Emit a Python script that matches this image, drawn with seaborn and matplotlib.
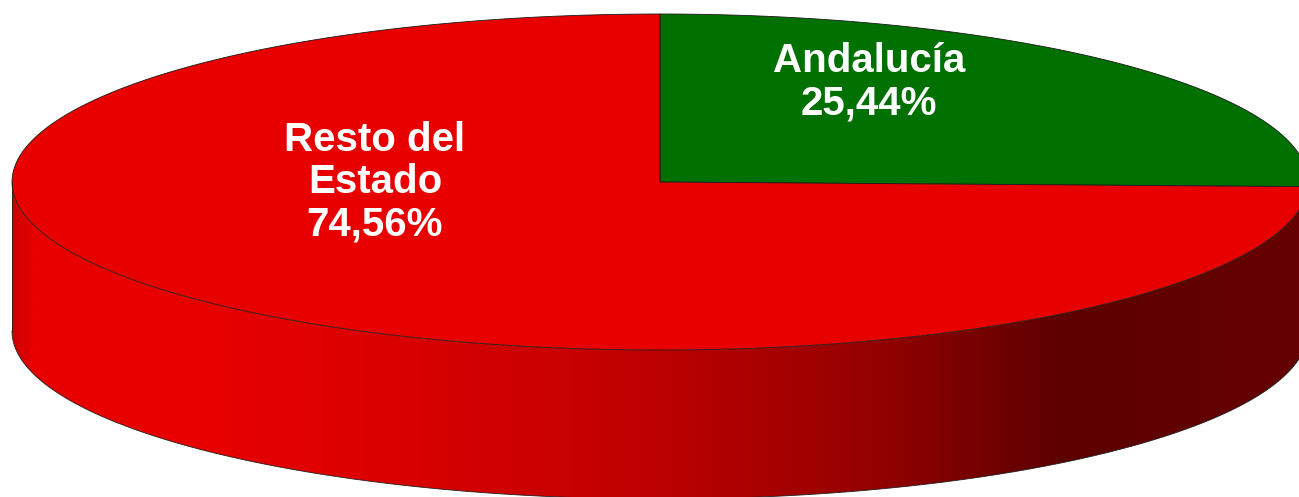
import numpy as np
import matplotlib
matplotlib.use("Agg")
import matplotlib.pyplot as plt
import seaborn as sns
from matplotlib.patches import Polygon

# ---- data ----
categories = ["Andalucía", "Resto del\nEstado"]
shares = [25.44, 74.56]
slice_colors = ["#007000", "#e80000"]

# ---- style / layout ----
sns.set_theme(style="white")
plt.rcParams['font.family'] = ['Liberation Sans', 'DejaVu Sans']

W, H = 1299, 497
CX, CY, A, B, DEPTH = 660, 182, 648, 168, 149
START = 90
label_pos = [(869, 82), (375, 182)]
shade_x = [12, 35, 200, 425, 650, 875, 1000, 1060, 1299]
shade_f = [0.88, 1.0, 1.0, 0.93, 0.82, 0.64, 0.48, 0.40, 0.44]

fig = plt.figure(figsize=(W / 100, H / 100), dpi=100)
ax = fig.add_axes([0, 0, 1, 1])
ax.axis('off')


def arc(t0, t1, dy=0.0, n=200):
    t = np.radians(np.linspace(t0, t1, n))
    return np.column_stack([CX + A * np.cos(t), CY - B * np.sin(t) + dy])


fracs = np.array(shares) / np.sum(shares)
bounds = START - 360 * np.concatenate([[0], np.cumsum(fracs)])

shade = np.interp(np.arange(W) + 0.5, shade_x, shade_f)

# side walls (visible front half: angles -180..0)
for i, col in enumerate(slice_colors):
    hi, lo = bounds[i], bounds[i + 1]
    rgb = np.array(matplotlib.colors.to_rgb(col))
    for k in (-1, 0, 1):
        a0 = max(lo + 360 * k, -180)
        a1 = min(hi + 360 * k, 0)
        if a1 > a0:
            top = arc(a0, a1)
            bot = arc(a1, a0, dy=DEPTH)
            pts = np.vstack([top, bot])
            patch = Polygon(pts, closed=True, facecolor='none', edgecolor='none')
            ax.add_patch(patch)
            img = np.clip(rgb[None, None, :] * shade[None, :, None], 0, 1)
            im = ax.imshow(img, extent=(0, W, H, 0), aspect='auto',
                           interpolation='bilinear', zorder=1)
            im.set_clip_path(patch)

# side outline
bot_arc = arc(-180, 0, dy=DEPTH)
ax.plot(bot_arc[:, 0], bot_arc[:, 1], color='#222222', lw=0.6, zorder=4)
lx = CX - A
ax.plot([lx, lx], [CY, CY + DEPTH], color='#222222', lw=0.6, zorder=4)

# top faces
for i, col in enumerate(slice_colors):
    hi, lo = bounds[i], bounds[i + 1]
    pts = np.vstack([[CX, CY], arc(hi, lo)])
    ax.add_patch(Polygon(pts, closed=True, facecolor=col, edgecolor='#1a1a1a',
                         lw=0.6, zorder=3))

# labels
for cat, share, (x, y) in zip(categories, shares, label_pos):
    txt = f"{cat}\n{share:.2f}%".replace('.', ',')
    ax.text(x, y, txt, color='white', fontsize=29, fontweight='bold',
            ha='center', va='center', linespacing=1.14, zorder=5)

ax.set_xlim(0, W)
ax.set_ylim(H, 0)
fig.savefig("out.png", dpi=100, facecolor='white')
